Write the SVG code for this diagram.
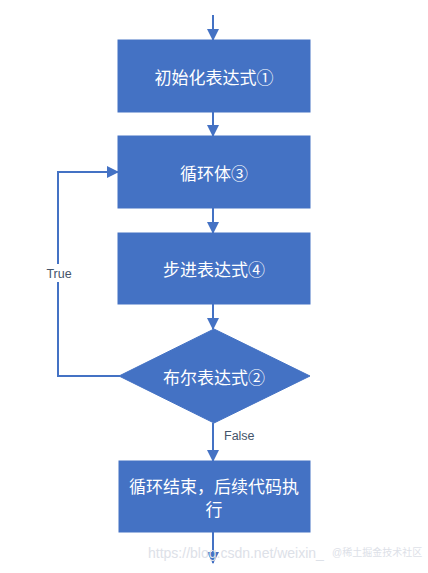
<svg xmlns="http://www.w3.org/2000/svg" width="428" height="573" viewBox="0 0 428 573">
<defs>
<marker id="ah" markerWidth="12" markerHeight="12" refX="11" refY="6" orient="auto" markerUnits="userSpaceOnUse">
<path d="M0,0 L12,6 L0,12 Z" fill="#4472C4"/>
</marker>
<style>
.box{fill:#4472C4;stroke:#4472C4;stroke-width:1}
.t{font-family:"Microsoft YaHei","Noto Sans CJK SC",sans-serif;font-size:17px;fill:#ffffff;text-anchor:middle;dominant-baseline:central}
.c{stroke:#4472C4;stroke-width:2;fill:none}
.lb{font-family:"Liberation Sans","Noto Sans",sans-serif;font-size:12.5px;fill:#44546A}
.wm{font-family:"Liberation Sans","Noto Sans CJK SC",sans-serif;fill:#dde1e8}
</style>
</defs>
<rect width="428" height="573" fill="#ffffff"/>
<g id="connectors">
<line class="c" x1="213" y1="15" x2="213" y2="40" marker-end="url(#ah)"/>
<line class="c" x1="213" y1="112" x2="213" y2="136" marker-end="url(#ah)"/>
<line class="c" x1="213" y1="208" x2="213" y2="233" marker-end="url(#ah)"/>
<line class="c" x1="213" y1="304" x2="213" y2="329" marker-end="url(#ah)"/>
<polyline class="c" points="120,376 58,376 58,172 118,172" marker-end="url(#ah)"/>
<line class="c" x1="213" y1="423" x2="213" y2="461" marker-end="url(#ah)"/>
<line class="c" x1="213" y1="532" x2="213" y2="563" marker-end="url(#ah)"/>
<rect x="44" y="264" width="30" height="18" fill="#ffffff"/>
<text class="lb" x="59" y="278" text-anchor="middle">True</text>
<text class="lb" x="224" y="440">False</text>
</g>
<g id="init">
<rect class="box" x="118" y="40" width="192" height="72"/>
<text class="t" x="214" y="76">初始化表达式①</text>
</g>
<g id="body">
<rect class="box" x="118" y="136" width="192" height="72"/>
<text class="t" x="214" y="172">循环体③</text>
</g>
<g id="step">
<rect class="box" x="118" y="233" width="192" height="71"/>
<text class="t" x="214" y="268">步进表达式④</text>
</g>
<g id="cond">
<polygon class="box" points="214,329 310,376 214,423 119,376"/>
<text class="t" x="214" y="376">布尔表达式②</text>
</g>
<g id="end">
<rect class="box" x="119" y="461" width="191" height="71"/>
<text class="t" x="214" y="485">循环结束，后续代码执</text>
<text class="t" x="214" y="508">行</text>
</g>
<text class="wm" x="148" y="558" font-size="14">https://blog.csdn.net/weixin_</text>
<text class="wm" x="332" y="556" font-size="10" fill="#c8ccd4">@稀土掘金技术社区</text>
</svg>
